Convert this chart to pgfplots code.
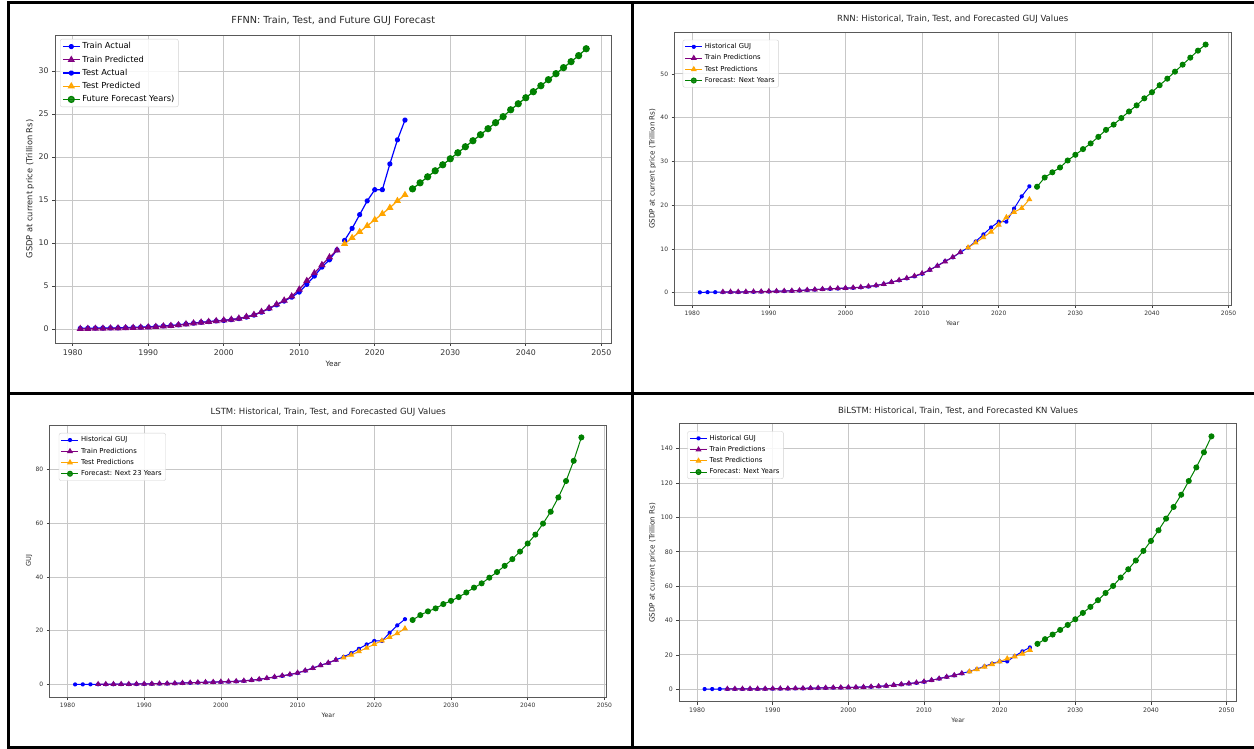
\documentclass[border=0pt]{standalone}
\usepackage{pgfplots}
\pgfplotsset{compat=1.18}
\usepackage{pgfplotstable}
\usetikzlibrary{plotmarks}
\usepackage{fontspec}
\setmainfont{DejaVu Sans}
\definecolor{mplblue}{RGB}{0,0,255}
\definecolor{mplpurple}{RGB}{128,0,128}
\definecolor{mplorange}{RGB}{255,165,0}
\definecolor{mplgreen}{RGB}{0,128,0}

\pgfplotstableread{
year val
1981 0.07
1982 0.09
1983 0.10
1984 0.11
1985 0.12
1986 0.13
1987 0.15
1988 0.18
1989 0.21
1990 0.25
1991 0.30
1992 0.35
1993 0.40
1994 0.48
1995 0.58
1996 0.68
1997 0.78
1998 0.85
1999 0.93
2000 1.00
2001 1.08
2002 1.20
2003 1.38
2004 1.62
2005 1.95
2006 2.38
2007 2.80
2008 3.25
2009 3.70
2010 4.30
2011 5.20
2012 6.15
2013 7.20
2014 8.05
2015 9.20
2016 10.30
2017 11.70
2018 13.30
2019 14.90
2020 16.20
2021 16.20
2022 19.20
2023 22.00
2024 24.30
}\actual

\pgfplotstableread{
year val
1981 0.07
1982 0.09
1983 0.10
1984 0.11
1985 0.12
1986 0.13
1987 0.15
1988 0.18
1989 0.21
1990 0.25
1991 0.30
1992 0.35
1993 0.40
1994 0.48
1995 0.58
1996 0.68
1997 0.78
1998 0.85
1999 0.93
2000 1.00
2001 1.08
2002 1.20
2003 1.38
2004 1.62
2005 1.95
2006 2.38
2007 2.80
2008 3.25
2009 3.70
2010 4.30
2011 5.20
2012 6.15
2013 7.20
2014 8.05
2015 9.20
}\trainact

\pgfplotstableread{
year val
2016 10.30
2017 11.70
2018 13.30
2019 14.90
2020 16.20
2021 16.20
2022 19.20
2023 22.00
2024 24.30
}\testact

% FFNN
\pgfplotstableread{
year val
1981 0.02
1982 0.03
1983 0.04
1984 0.05
1985 0.07
1986 0.09
1987 0.11
1988 0.14
1989 0.17
1990 0.21
1991 0.26
1992 0.32
1993 0.38
1994 0.46
1995 0.56
1996 0.66
1997 0.76
1998 0.84
1999 0.93
2000 1.01
2001 1.10
2002 1.23
2003 1.42
2004 1.66
2005 2.00
2006 2.42
2007 2.86
2008 3.32
2009 3.80
2010 4.60
2011 5.60
2012 6.50
2013 7.45
2014 8.35
2015 9.15
}\ffnntrain
\pgfplotstableread{
year val
2016 9.90
2017 10.60
2018 11.30
2019 12.00
2020 12.70
2021 13.40
2022 14.10
2023 14.90
2024 15.60
}\ffnntest
\pgfplotstableread{
year val
2025 16.30
2026 17.00
2027 17.70
2028 18.40
2029 19.10
2030 19.80
2031 20.50
2032 21.20
2033 21.90
2034 22.60
2035 23.30
2036 24.00
2037 24.70
2038 25.50
2039 26.20
2040 26.90
2041 27.60
2042 28.30
2043 29.00
2044 29.70
2045 30.40
2046 31.10
2047 31.80
2048 32.60
}\ffnnfut

% RNN
\pgfplotstableread{
year val
1984 0.16
1985 0.17
1986 0.18
1987 0.19
1988 0.21
1989 0.24
1990 0.29
1991 0.33
1992 0.37
1993 0.42
1994 0.50
1995 0.60
1996 0.70
1997 0.80
1998 0.89
1999 0.97
2000 1.05
2001 1.13
2002 1.25
2003 1.42
2004 1.65
2005 1.95
2006 2.40
2007 2.85
2008 3.30
2009 3.80
2010 4.40
2011 5.20
2012 6.10
2013 7.10
2014 8.10
2015 9.25
}\rnntrain
\pgfplotstableread{
year val
2016 10.30
2017 11.40
2018 12.60
2019 13.90
2020 15.50
2021 17.20
2022 18.40
2023 19.30
2024 21.30
}\rnntest
\pgfplotstableread{
year val
2025 24.2
2026 26.3
2027 27.5
2028 28.6
2029 30.2
2030 31.5
2031 32.8
2032 34.1
2033 35.6
2034 37.2
2035 38.4
2036 39.9
2037 41.4
2038 42.8
2039 44.4
2040 45.8
2041 47.4
2042 48.9
2043 50.5
2044 52.1
2045 53.7
2046 55.3
2047 56.7
}\rnnfut

% LSTM
\pgfplotstableread{
year val
1984 0.15
1985 0.16
1986 0.17
1987 0.18
1988 0.20
1989 0.23
1990 0.27
1991 0.31
1992 0.36
1993 0.41
1994 0.49
1995 0.59
1996 0.69
1997 0.79
1998 0.88
1999 0.96
2000 1.04
2001 1.12
2002 1.24
2003 1.42
2004 1.66
2005 1.98
2006 2.40
2007 2.85
2008 3.30
2009 3.78
2010 4.38
2011 5.20
2012 6.10
2013 7.15
2014 8.10
2015 9.20
}\lstmtrain
\pgfplotstableread{
year val
2016 10.00
2017 11.00
2018 12.30
2019 13.60
2020 15.00
2021 16.30
2022 17.60
2023 19.00
2024 20.80
}\lstmtest
\pgfplotstableread{
year val
2025 24.0
2026 25.8
2027 27.2
2028 28.3
2029 29.9
2030 31.1
2031 32.5
2032 34.2
2033 36.0
2034 37.6
2035 39.7
2036 41.8
2037 44.1
2038 46.6
2039 49.4
2040 52.4
2041 55.7
2042 59.8
2043 64.2
2044 69.5
2045 75.6
2046 83.1
2047 91.8
}\lstmfut

% BiLSTM
\pgfplotstableread{
year val
1984 0.15
1985 0.16
1986 0.17
1987 0.18
1988 0.20
1989 0.23
1990 0.27
1991 0.31
1992 0.36
1993 0.41
1994 0.49
1995 0.59
1996 0.69
1997 0.79
1998 0.88
1999 0.96
2000 1.04
2001 1.12
2002 1.24
2003 1.42
2004 1.66
2005 1.98
2006 2.40
2007 2.85
2008 3.30
2009 3.78
2010 4.38
2011 5.20
2012 6.10
2013 7.15
2014 8.10
2015 9.20
}\bilstmtrain
\pgfplotstableread{
year val
2016 10.20
2017 11.50
2018 13.00
2019 14.50
2020 16.00
2021 17.80
2022 19.00
2023 20.60
2024 22.80
}\bilstmtest
\pgfplotstableread{
year val
2025 26.4
2026 29.1
2027 31.8
2028 34.5
2029 37.4
2030 40.7
2031 44.4
2032 47.9
2033 51.8
2034 56.0
2035 60.1
2036 65.0
2037 69.8
2038 74.9
2039 80.5
2040 86.3
2041 92.5
2042 99.3
2043 106.1
2044 113.2
2045 121.2
2046 129.1
2047 137.9
2048 147.2
}\bilstmfut

\pgfplotsset{
  mplaxis/.style={
    scale only axis,
    axis line style={black!65, line width=0.8pt},
    grid=major,
    major grid style={black!22, line width=0.7pt},
    tick align=outside,
    xtick pos=bottom, ytick pos=left,
    major tick length=3pt,
    tick style={black!75, line width=0.6pt},
    /pgf/number format/assume math mode=true,
    /pgf/number format/1000 sep={},
    xtick={1980,1990,...,2050},
    ticklabel style={text=black!80},
    legend cell align=left,
    legend style={draw=black!18, rounded corners=2pt, fill=white, fill opacity=0.85, text opacity=1,
      at={(0,1)}, anchor=north west, xshift=5pt, yshift=-4pt,
      inner xsep=2pt, inner ysep=1.5pt},
  },
  legend image code/.code={\draw[mark repeat=2,mark phase=2,#1] plot coordinates {(0pt,0pt)(8.5pt,0pt)(17pt,0pt)};},
}

\begin{document}
\begin{tikzpicture}[x=1pt,y=1pt]
\useasboundingbox (0,0) rectangle (1254,749);
\fill[white] (0,0) rectangle (1254,749);

% ---------------- Panel 1: FFNN ----------------
\begin{axis}[mplaxis,
  at={(55pt,406pt)}, anchor=south west,
  width=556.5pt, height=308pt,
  xmin=1977.65, xmax=2051.35, ymin=-1.63, ymax=34.2,
  ytick={0,5,...,30},
  ticklabel style={font=\fontsize{7.8}{9}\selectfont},
  title={FFNN: Train, Test, and Future GUJ Forecast},
  title style={font=\fontsize{9.7}{11}\selectfont, at={(axis description cs:0.5,1)}, anchor=center, yshift=8.5pt, text=black!85},
  xlabel={Year}, ylabel={GSDP at current price (Trillion Rs)},
  xlabel style={font=\fontsize{7.3}{9}\selectfont, at={(axis description cs:0.5,0)}, anchor=center, yshift=-21pt, text=black!85},
  ylabel style={font=\fontsize{8.3}{9}\selectfont, at={(axis description cs:-0.0449,0.5)}, anchor=center, text=black!85},
  legend style={font=\fontsize{8.3}{9.5}\selectfont, row sep=1.4pt},
]
\addplot[color=mplblue, line width=1.2pt, mark=10-pointed star, mark size=2.5pt] table[x=year,y=val] {\trainact};
\addlegendentry{Train Actual}
\addplot[color=mplpurple, line width=1.2pt, mark=triangle*, mark size=3pt] table[x=year,y=val] {\ffnntrain};
\addlegendentry{Train Predicted}
\addplot[color=mplblue, line width=1.2pt, mark=10-pointed star, mark size=2.5pt] table[x=year,y=val] {\testact};
\addlegendentry{Test Actual}
\addplot[color=mplorange, line width=1.2pt, mark=triangle*, mark size=3pt] table[x=year,y=val] {\ffnntest};
\addlegendentry{Test Predicted}
\addplot[color=mplgreen, line width=1.2pt, mark=*, mark size=3pt] table[x=year,y=val] {\ffnnfut};
\addlegendentry{Future Forecast Years)}
\end{axis}

% ---------------- Panel 2: RNN ----------------
\begin{axis}[mplaxis,
  at={(674.6pt,444pt)}, anchor=south west,
  width=556.3pt, height=272.7pt,
  xmin=1977.7, xmax=2050.3, ymin=-2.83, ymax=59.5,
  ytick={0,10,...,50},
  ticklabel style={font=\fontsize{6}{7}\selectfont},
  title={RNN: Historical, Train, Test, and Forecasted GUJ Values},
  title style={font=\fontsize{8.5}{10}\selectfont, at={(axis description cs:0.5,1)}, anchor=center, yshift=6.8pt, text=black!85},
  xlabel={Year}, ylabel={GSDP at current price (Trillion Rs)},
  xlabel style={font=\fontsize{6.2}{7}\selectfont, at={(axis description cs:0.5,0)}, anchor=center, yshift=-18pt, text=black!85},
  ylabel style={font=\fontsize{7.2}{8}\selectfont, at={(axis description cs:-0.0394,0.5)}, anchor=center, text=black!85},
  legend style={font=\fontsize{6.8}{8}\selectfont, xshift=3pt, yshift=-3.5pt, row sep=0.6pt},
]
\addplot[color=mplblue, line width=1pt, mark=10-pointed star, mark size=2pt] table[x=year,y=val] {\actual};
\addlegendentry{Historical GUJ}
\addplot[color=mplpurple, line width=1pt, mark=triangle*, mark size=2.5pt] table[x=year,y=val] {\rnntrain};
\addlegendentry{Train Predictions}
\addplot[color=mplorange, line width=1pt, mark=triangle*, mark size=2.5pt] table[x=year,y=val] {\rnntest};
\addlegendentry{Test Predictions}
\addplot[color=mplgreen, line width=1pt, mark=*, mark size=2.5pt] table[x=year,y=val] {\rnnfut};
\addlegendentry{Forecast: Next Years}
\end{axis}

% ---------------- Panel 3: LSTM ----------------
\begin{axis}[mplaxis,
  at={(49.8pt,52pt)}, anchor=south west,
  width=556.9pt, height=272pt,
  xmin=1977.7, xmax=2050.3, ymin=-4.6, ymax=96.4,
  ytick={0,20,...,80},
  ticklabel style={font=\fontsize{6}{7}\selectfont},
  title={LSTM: Historical, Train, Test, and Forecasted GUJ Values},
  title style={font=\fontsize{8.5}{10}\selectfont, at={(axis description cs:0.5,1)}, anchor=center, yshift=7pt, text=black!85},
  xlabel={Year}, ylabel={GUJ},
  xlabel style={font=\fontsize{6.2}{7}\selectfont, at={(axis description cs:0.5,0)}, anchor=center, yshift=-18pt, text=black!85},
  ylabel style={font=\fontsize{6.6}{7}\selectfont, at={(axis description cs:-0.0373,0.5)}, anchor=center, text=black!85},
  legend style={font=\fontsize{6.8}{8}\selectfont, xshift=4pt, yshift=-4pt, row sep=0.6pt},
]
\addplot[color=mplblue, line width=1pt, mark=10-pointed star, mark size=2pt] table[x=year,y=val] {\actual};
\addlegendentry{Historical GUJ}
\addplot[color=mplpurple, line width=1pt, mark=triangle*, mark size=2.5pt] table[x=year,y=val] {\lstmtrain};
\addlegendentry{Train Predictions}
\addplot[color=mplorange, line width=1pt, mark=triangle*, mark size=2.5pt] table[x=year,y=val] {\lstmtest};
\addlegendentry{Test Predictions}
\addplot[color=mplgreen, line width=1pt, mark=*, mark size=2.5pt] table[x=year,y=val] {\lstmfut};
\addlegendentry{Forecast: Next 23 Years}
\end{axis}

% ---------------- Panel 4: BiLSTM ----------------
\begin{axis}[mplaxis,
  at={(679.3pt,47.2pt)}, anchor=south west,
  width=557.5pt, height=278pt,
  xmin=1977.65, xmax=2051.35, ymin=-7.35, ymax=154.5,
  ytick={0,20,...,140},
  ticklabel style={font=\fontsize{6.2}{7}\selectfont},
  title={BiLSTM: Historical, Train, Test, and Forecasted KN Values},
  title style={font=\fontsize{8.5}{10}\selectfont, at={(axis description cs:0.5,1)}, anchor=center, yshift=7.3pt, text=black!85},
  xlabel={Year}, ylabel={GSDP at current price (Trillion Rs)},
  xlabel style={font=\fontsize{6.2}{7}\selectfont, at={(axis description cs:0.5,0)}, anchor=center, yshift=-18pt, text=black!85},
  ylabel style={font=\fontsize{7.2}{8}\selectfont, at={(axis description cs:-0.0477,0.5)}, anchor=center, text=black!85},
  legend style={font=\fontsize{6.8}{8}\selectfont, xshift=3pt, yshift=-3.5pt, row sep=0.6pt},
]
\addplot[color=mplblue, line width=1pt, mark=10-pointed star, mark size=2pt] table[x=year,y=val] {\actual};
\addlegendentry{Historical GUJ}
\addplot[color=mplpurple, line width=1pt, mark=triangle*, mark size=2.5pt] table[x=year,y=val] {\bilstmtrain};
\addlegendentry{Train Predictions}
\addplot[color=mplorange, line width=1pt, mark=triangle*, mark size=2.5pt] table[x=year,y=val] {\bilstmtest};
\addlegendentry{Test Predictions}
\addplot[color=mplgreen, line width=1pt, mark=*, mark size=2.5pt] table[x=year,y=val] {\bilstmfut};
\addlegendentry{Forecast: Next Years}
\end{axis}

% ---------------- Frame ----------------
\draw[black, line width=3pt] (8.5,1.5) -- (8.5,746);
\draw[black, line width=3pt] (7,746) -- (1254,746);
\draw[black, line width=3pt] (7,1.5) -- (1254,1.5);
\draw[black, line width=3pt] (632.5,1.5) -- (632.5,746);
\draw[black, line width=3pt] (7,355.2) -- (1254,355.2);
\end{tikzpicture}
\end{document}
